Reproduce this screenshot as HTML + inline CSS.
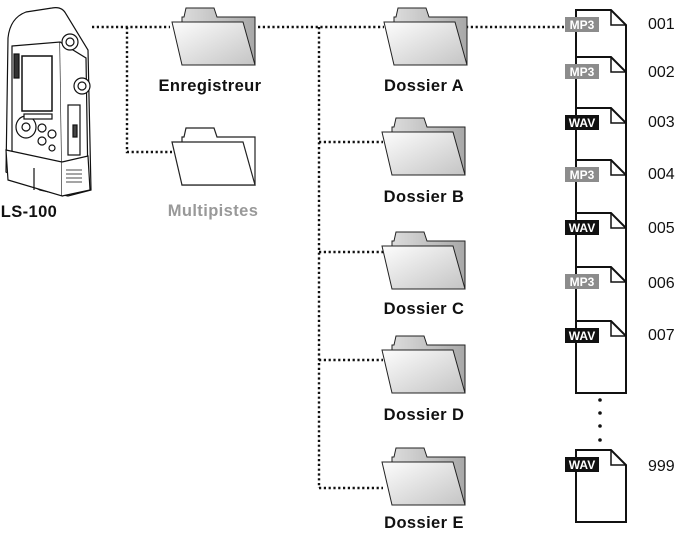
<!DOCTYPE html>
<html><head><meta charset="utf-8"><style>
html,body{margin:0;padding:0;background:#fff;}
svg{display:block;}
text{font-family:"Liberation Sans",sans-serif;}
.lb{font-weight:bold;font-size:16.5px;letter-spacing:0.4px;text-anchor:middle;fill:#111;}
.num{font-size:16px;fill:#111;}
.dot{stroke:#111;stroke-width:2.4;stroke-dasharray:2.2 2.6;fill:none;}
</style></head><body>
<svg width="682" height="534" viewBox="0 0 682 534" xmlns="http://www.w3.org/2000/svg">
<defs>
<linearGradient id="fg" x1="0" y1="0" x2="1" y2="1">
<stop offset="0" stop-color="#fdfdfd"/><stop offset="1" stop-color="#c4c4c4"/></linearGradient>
<linearGradient id="bg" x1="0" y1="0" x2="1" y2="0">
<stop offset="0" stop-color="#dcdcdc"/><stop offset="1" stop-color="#a8a8a8"/></linearGradient>
<g id="fold">
<path d="M10,43 L10,-5 L12,-5 L14,-14 L42,-14 L45,-5 L83,-5 L83,43 Z" fill="url(#bg)" stroke="#222" stroke-width="1"/>
<path d="M0,0 L71,0 L83,43 L10,43 Z" fill="url(#fg)" stroke="#222" stroke-width="1"/>
</g>
<g id="foldw">
<path d="M10,43 L10,-5 L12,-5 L14,-14 L42,-14 L45,-5 L83,-5 L83,43 Z" fill="#fff" stroke="#222" stroke-width="1.2"/>
<path d="M0,0 L71,0 L83,43 L10,43 Z" fill="#fff" stroke="#222" stroke-width="1.2"/>
</g>
<g id="file">
<path d="M0,0 L35,0 L50,15 L50,72 L0,72 Z" fill="#fff" stroke="#111" stroke-width="2"/>
<path d="M35,0 L35,15 L50,15" fill="none" stroke="#111" stroke-width="1.5"/>
</g>
</defs>

<path class="dot" d="M92,27 H170 M127,27 V152 H172"/>
<path class="dot" d="M258,27 H384 M319,27 V488 M319,142 H383 M319,252 H383 M319,360 H383 M319,488 H383"/>
<path class="dot" d="M466,27 H564"/>

<g stroke="#111" stroke-width="1.2" fill="#fff">
<path d="M8,38 Q10,18 26,12 L52,8 Q62,6 66,14 L88,50 L91,190 L68,196 L40,190 L6,172 Z"/>
<path d="M12,46 L60,42 L62,180 L12,165 Z"/>
<rect x="22" y="56" width="30" height="55" fill="#fff" stroke-width="1.5"/>
<path d="M60,42 L86,58 L88,185 L62,180"/>
<circle cx="70" cy="42" r="8"/><circle cx="70" cy="42" r="4"/>
<circle cx="82" cy="86" r="8"/><circle cx="82" cy="86" r="4"/>
<ellipse cx="26" cy="127" rx="10" ry="11"/><circle cx="26" cy="127" r="4"/>
<circle cx="42" cy="128" r="4"/><circle cx="52" cy="134" r="4"/><circle cx="42" cy="141" r="4"/><circle cx="52" cy="148" r="3"/>
<rect x="24" y="114" width="28" height="5"/>
<rect x="68" y="105" width="12" height="50"/>
<rect x="73" y="125" width="4" height="12" fill="#444"/>
<path d="M6,150 L62,162 L62,196 L8,180 Z"/>
<path d="M62,162 L88,156 L90,190 L62,196"/>
<path d="M34,168 L34,190"/>
<rect x="14" y="54" width="5" height="24" fill="#333"/>
<path d="M66,170 h16 M66,174 h16 M66,178 h16 M66,182 h16" stroke-width="0.8"/>
</g>
<text x="29" y="217" class="lb">LS-100</text>

<use href="#fold" x="172" y="22"/>
<text x="210" y="91" class="lb">Enregistreur</text>
<use href="#foldw" x="172" y="142"/>
<text x="213" y="216" class="lb" style="fill:#999">Multipistes</text>

<use href="#fold" x="384" y="22"/>
<text x="424" y="91" class="lb">Dossier A</text>
<use href="#fold" x="382" y="132"/>
<text x="424" y="202" class="lb">Dossier B</text>
<use href="#fold" x="382" y="246"/>
<text x="424" y="314" class="lb">Dossier C</text>
<use href="#fold" x="382" y="350"/>
<text x="424" y="420" class="lb">Dossier D</text>
<use href="#fold" x="382" y="462"/>
<text x="424" y="528" class="lb">Dossier E</text>

<use href="#file" x="576" y="10"/>
<use href="#file" x="576" y="57"/>
<use href="#file" x="576" y="108"/>
<use href="#file" x="576" y="160"/>
<use href="#file" x="576" y="213"/>
<use href="#file" x="576" y="267"/>
<use href="#file" x="576" y="321"/>
<use href="#file" x="576" y="450"/>
<g fill="#111"><circle cx="600" cy="400" r="1.8"/><circle cx="600" cy="413" r="1.8"/><circle cx="600" cy="426" r="1.8"/><circle cx="600" cy="440" r="1.8"/></g>

<g font-family="Liberation Sans" font-weight="bold" font-size="12" text-anchor="middle" fill="#fff">
<rect x="565" y="17" width="34" height="15" fill="#8c8c8c"/><text x="582" y="29">MP3</text>
<rect x="565" y="64" width="34" height="15" fill="#8c8c8c"/><text x="582" y="76">MP3</text>
<rect x="565" y="115" width="34" height="15" fill="#111"/><text x="582" y="127">WAV</text>
<rect x="565" y="167" width="34" height="15" fill="#8c8c8c"/><text x="582" y="179">MP3</text>
<rect x="565" y="220" width="34" height="15" fill="#111"/><text x="582" y="232">WAV</text>
<rect x="565" y="274" width="34" height="15" fill="#8c8c8c"/><text x="582" y="286">MP3</text>
<rect x="565" y="328" width="34" height="15" fill="#111"/><text x="582" y="340">WAV</text>
<rect x="565" y="457" width="34" height="15" fill="#111"/><text x="582" y="469">WAV</text>
</g>

<text x="648" y="29" class="num">001</text>
<text x="648" y="77" class="num">002</text>
<text x="648" y="127" class="num">003</text>
<text x="648" y="179" class="num">004</text>
<text x="648" y="233" class="num">005</text>
<text x="648" y="288" class="num">006</text>
<text x="648" y="340" class="num">007</text>
<text x="648" y="471" class="num">999</text>
</svg>
</body></html>
